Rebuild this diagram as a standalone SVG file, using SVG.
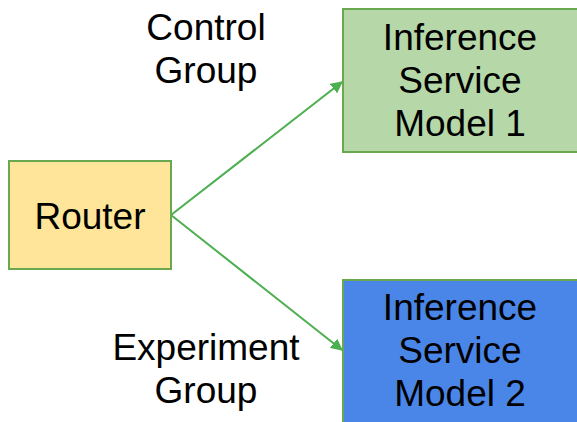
<svg xmlns="http://www.w3.org/2000/svg" width="577" height="422" viewBox="0 0 577 422">
  <style>
    .box { stroke: #6aa84f; stroke-width: 2; }
    .lbl { font-family: "Liberation Sans", Arial, sans-serif; font-size: 37px; fill: #000; text-anchor: middle; }
    .edge { stroke: #4caf50; stroke-width: 2; fill: none; }
  </style>
  <defs>
    <marker id="arrow" viewBox="0 0 10 10" refX="9" refY="5" markerWidth="6" markerHeight="6" orient="auto" markerUnits="strokeWidth">
      <path d="M0,0 L10,5 L0,10 z" fill="#4caf50"/>
    </marker>
  </defs>
  <rect width="577" height="422" fill="#fff"/>

  <g id="edges">
    <line class="edge" x1="171" y1="215" x2="342" y2="82" marker-end="url(#arrow)"/>
    <line class="edge" x1="171" y1="215" x2="342" y2="350" marker-end="url(#arrow)"/>
  </g>

  <g id="router">
    <rect class="box" x="9" y="161" width="162" height="108" fill="#ffe599"/>
    <text class="lbl" x="90" y="229">Router</text>
  </g>

  <g id="model1">
    <rect class="box" x="343" y="9" width="240" height="143" fill="#b6d7a8"/>
    <text class="lbl" x="460" y="50">Inference</text>
    <text class="lbl" x="460" y="93">Service</text>
    <text class="lbl" x="460" y="136">Model 1</text>
  </g>

  <g id="model2">
    <rect class="box" x="343" y="280" width="240" height="170" fill="#4a86e8"/>
    <text class="lbl" x="460" y="320">Inference</text>
    <text class="lbl" x="460" y="363">Service</text>
    <text class="lbl" x="460" y="406">Model 2</text>
  </g>

  <g id="control-label">
    <text class="lbl" x="206" y="40">Control</text>
    <text class="lbl" x="206" y="83">Group</text>
  </g>

  <g id="experiment-label">
    <text class="lbl" x="206" y="360">Experiment</text>
    <text class="lbl" x="206" y="403">Group</text>
  </g>
</svg>
